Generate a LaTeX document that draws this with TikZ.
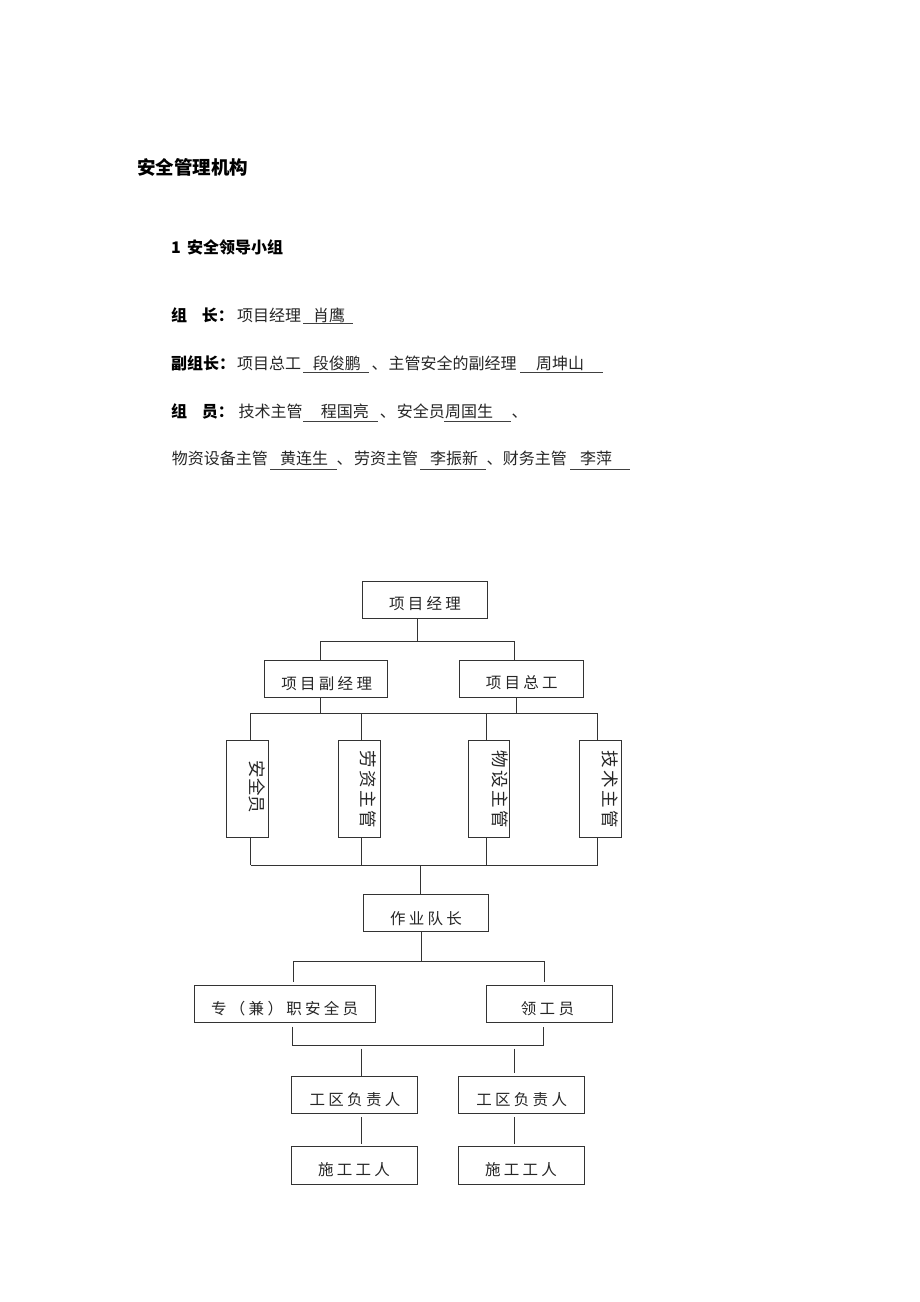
\documentclass[tikz,border=0pt]{standalone}
\usepackage{fontspec}
\setmainfont{Noto Sans CJK SC}
\newcommand\ksa{\kern3.3pt}
\newcommand\ksb{\kern2.5pt}
\begin{document}
\begin{tikzpicture}[x=1pt,y=-1pt,
  box/.style={draw=black!80,line width=0.9pt,inner sep=0pt,rectangle},
  conn/.style={draw=black!80,line width=0.9pt},
  ul/.style={draw=black!75,line width=0.9pt},
  bt/.style={inner sep=0pt,text=black!85,font=\fontsize{15.5}{15.5}\selectfont},
  vt/.style={inner sep=0pt,text=black!85,rotate=-90,font=\fontsize{17.5}{17.5}\selectfont},
  hd/.style={anchor=base west,inner sep=0pt,text=black!85,font=\fontsize{16}{16}\selectfont},
  hdb/.style={anchor=base west,inner sep=0pt,text=black,font=\fontsize{16}{16}\selectfont\bfseries}]
\fill[white] (0,0) rectangle (920,1302);
\useasboundingbox (0,0) rectangle (920,1302);

% ---------- heading text ----------
\node[anchor=base west,inner sep=0pt,font=\fontsize{18.5}{18.5}\selectfont\bfseries] (title) at (137,174) {安全管理机构};
\node[hdb] (secn) at (171,253) {1};
\node[hdb] (sect) at (187,253) {安全领导小组};

% line 1
\node[hdb] (l1a) at (171,321) {组\hspace{14.7pt}长：};
\node[hd] (l1b) at (237,321) {项目经理};
\node[hd] (l1c) at (313,321) {肖鹰};
\draw[ul] (303.3,323.3) -- (352.7,323.3);

% line 2
\node[hdb] (l2a) at (171,369) {副组长：};
\node[hd] (l2b) at (237,369) {项目总工};
\node[hd] (l2c) at (312.7,369) {段俊鹏};
\draw[ul] (303.3,372.7) -- (369.3,372.7);
\node[hd] (l2d) at (371.4,369) {、};
\node[hd] (l2e) at (388.3,369) {主管安全的副经理};
\draw[ul] (520,372.7) -- (602.7,372.7);
\node[hd] (l2f) at (536,369) {周坤山};

% line 3
\node[hdb] (l3a) at (171,417) {组\hspace{14.7pt}员：};
\node[hd] (l3b) at (238.3,417) {技术主管};
\draw[ul] (303.3,421) -- (378.3,421);
\node[hd] (l3c) at (320.7,417) {程国亮};
\node[hd] (l3d) at (379.7,417) {、};
\node[hd] (l3e) at (396.7,417) {安全员};
\draw[ul] (444.3,421) -- (511,421);
\node[hd] (l3f) at (445,417) {周国生};
\node[hd] (l3g) at (511.4,417) {、};

% line 4
\node[hd] (l4a) at (171.7,464.5) {物资设备主管};
\draw[ul] (270,469) -- (336.7,469);
\node[hd] (l4b) at (280,464.5) {黄连生};
\node[hd] (l4c) at (336.4,464.5) {、};
\node[hd] (l4d) at (354,464.5) {劳资主管};
\draw[ul] (420,469) -- (486,469);
\node[hd] (l4e) at (430,464.5) {李振新};
\node[hd] (l4f) at (486.4,464.5) {、};
\node[hd] (l4g) at (502.7,464.5) {财务主管};
\draw[ul] (570,469) -- (630,469);
\node[hd] (l4h) at (580,464.5) {李萍};

% ---------- boxes ----------
\node[box,minimum width=125pt,minimum height=36.6pt] (pm) at (424.5,600) {};
\node[box,minimum width=123.4pt,minimum height=37.3pt] (dpm) at (326,678.7) {};
\node[box,minimum width=124.3pt,minimum height=37.3pt] (ce) at (521.2,678.7) {};
\node[box,minimum width=41.7pt,minimum height=96.6pt] (v1) at (247.5,789) {};
\node[box,minimum width=41.7pt,minimum height=96.6pt] (v2) at (359.2,789) {};
\node[box,minimum width=41.7pt,minimum height=96.6pt] (v3) at (488.8,789) {};
\node[box,minimum width=41.7pt,minimum height=96.6pt] (v4) at (600.5,789) {};
\node[box,minimum width=125pt,minimum height=36.7pt] (tl) at (425.8,912.7) {};
\node[box,minimum width=181.4pt,minimum height=37pt] (sa) at (285,1004.2) {};
\node[box,minimum width=125.3pt,minimum height=37pt] (lg) at (549.3,1004.2) {};
\node[box,minimum width=125.6pt,minimum height=37.3pt] (z1) at (354.5,1094.7) {};
\node[box,minimum width=125.6pt,minimum height=37.3pt] (z2) at (521.5,1094.7) {};
\node[box,minimum width=125.6pt,minimum height=37.3pt] (w1) at (354.5,1165.3) {};
\node[box,minimum width=125.6pt,minimum height=37.3pt] (w2) at (521.5,1165.3) {};

% ---------- box texts ----------
\node[bt] (pmt) at (425,603.3) {项\ksa 目\ksa 经\ksa 理};
\node[bt] (dpmt) at (326.7,683.3) {项\ksa 目\ksa 副\ksa 经\ksa 理};
\node[bt] (cet) at (521.7,683) {项\ksa 目\ksa 总\ksa 工};
\node[vt] (v1t) at (257.5,787) {安全员};
\node[vt] (v2t) at (368.3,789.5) {劳\ksb 资\ksb 主\ksb 管};
\node[vt] (v3t) at (500,789.5) {物\ksb 设\ksb 主\ksb 管};
\node[vt] (v4t) at (610,789.5) {技\ksb 术\ksb 主\ksb 管};
\node[bt] (tlt) at (426,918.3) {作\ksa 业\ksa 队\ksa 长};
\node[bt] (sat) at (284.7,1008.3) {专\ksa （\ksa 兼\ksa ）\ksa 职\ksa 安\ksa 全\ksa 员};
\node[bt] (lgt) at (547.5,1008.3) {领\ksa 工\ksa 员};
\node[bt] (z1t) at (355,1099.3) {工\ksa 区\ksa 负\ksa 责\ksa 人};
\node[bt] (z2t) at (521.7,1099.3) {工\ksa 区\ksa 负\ksa 责\ksa 人};
\node[bt] (w1t) at (354,1170) {施\ksa 工\ksa 工\ksa 人};
\node[bt] (w2t) at (521,1170) {施\ksa 工\ksa 工\ksa 人};

% ---------- connectors ----------
\coordinate (s1) at (417.3,641);
\coordinate (h1a) at (320,641);
\coordinate (h1b) at (514.3,641);
\draw[conn] (s1 |- pm.south) -- (s1);
\draw[conn] (h1a |- dpm.north) -- (h1a) -- (h1b) -- (h1b |- ce.north);

\coordinate (d1) at (320,713);
\coordinate (d2) at (516.7,713);
\draw[conn] (d1 |- dpm.south) -- (d1);
\draw[conn] (d2 |- ce.south) -- (d2);

\coordinate (a1) at (250.7,713);
\coordinate (a2) at (361.7,713);
\coordinate (a3) at (486.7,713);
\coordinate (a4) at (597.7,713);
\draw[conn] (a1) -- (a4);
\coordinate (b1) at (250.7,865);
\coordinate (b2) at (361.7,865);
\coordinate (b3) at (486.7,865);
\coordinate (b4) at (597.7,865);
\draw[conn] (b1) -- (b4);
\foreach \i in {1,2,3,4}{
  \draw[conn] (a\i) -- (a\i |- v\i.north);
  \draw[conn] (b\i |- v\i.south) -- (b\i);
}
\coordinate (s2) at (420.7,865);
\draw[conn] (s2) -- (s2 |- tl.north);

\coordinate (s3) at (421.7,961);
\coordinate (c1) at (293.3,961);
\coordinate (c2) at (544.3,961);
\draw[conn] (s3 |- tl.south) -- (s3);
\draw[conn,shorten <=3.5pt,shorten >=3.5pt] (c1 |- sa.north) -- (c1) -- (c2) -- (c2 |- lg.north);

\coordinate (e1) at (292,1045.7);
\coordinate (e2) at (543.3,1045.7);
\draw[conn,shorten <=3.5pt,shorten >=3.5pt] (e1 |- sa.south) -- (e1) -- (e2) -- (e2 |- lg.south);
\coordinate (f1) at (361.7,1045.7);
\coordinate (f2) at (514.7,1045.7);
\draw[conn,shorten <=3pt] (f1) -- (f1 |- z1.north);
\draw[conn,shorten <=3pt,shorten >=3pt] (f2) -- (f2 |- z2.north);

\coordinate (g1) at (361.7,1130);
\coordinate (g2) at (514.7,1130);
\draw[conn,shorten <=3.5pt,shorten >=2.5pt] (g1 |- z1.south) -- (g1 |- w1.north);
\draw[conn,shorten <=3.5pt,shorten >=2.5pt] (g2 |- z2.south) -- (g2 |- w2.north);
\end{tikzpicture}
\end{document}
